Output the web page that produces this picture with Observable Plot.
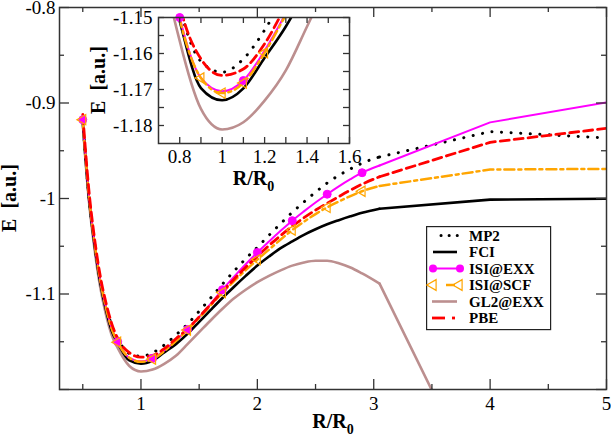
<!DOCTYPE html>
<html><head><meta charset="utf-8">
<script src="https://cdn.jsdelivr.net/npm/d3@7"></script>
<script src="https://cdn.jsdelivr.net/npm/@observablehq/plot@0.6"></script>
<style>
html,body{margin:0;padding:0;background:#fff;}
#wrap{position:relative;width:611px;height:440px;overflow:hidden;font-family:"Liberation Serif","Times New Roman",serif;}
#wrap > svg{position:absolute;overflow:visible;}
#wrap svg, #wrap svg text{font-family:"Liberation Serif","Times New Roman",serif !important;}
#wrap svg.mainplot{background:white !important;}
#wrap svg.insetplot{background:transparent !important;}
</style></head><body><div id="wrap"></div>
<script>
// ---- data (R/R0, energies in a.u.) ----
const R       = [0.5, 0.55, 0.6, 0.65, 0.7, 0.75, 0.8, 0.9, 1.0, 1.1, 1.2, 1.3, 1.4, 1.5, 1.6, 1.7, 1.8, 1.9, 2.0, 2.1, 2.2, 2.3, 2.4, 2.5, 2.6, 2.7, 2.8, 2.9, 3.05, 4, 5];
const MP2     = [-0.9185, -0.994, -1.0455, -1.085, -1.1125, -1.1335, -1.1470, -1.1622, -1.1652, -1.1615, -1.1535, -1.1430, -1.1315, -1.1180, -1.1040, -1.0897, -1.0760, -1.0630, -1.0510, -1.0385, -1.0263, -1.0145, -1.0037, -0.9934, -0.9838, -0.9758, -0.9690, -0.9630, -0.9565, -0.9300, -0.9366];
const FCI     = [-0.920, -0.996, -1.048, -1.088, -1.117, -1.139, -1.151, -1.1696, -1.1730, -1.1697, -1.1612, -1.1525, -1.1418, -1.1292, -1.1166, -1.1042, -1.0924, -1.0810, -1.0702, -1.0608, -1.0520, -1.0448, -1.0380, -1.0322, -1.0270, -1.0227, -1.0187, -1.0150, -1.0108, -1.0012, -1.0002];
const ISI_EXX = [-0.9175, -0.993, -1.0455, -1.0855, -1.1145, -1.1365, -1.1500, -1.1668, -1.1705, -1.1675, -1.1592, -1.1488, -1.1372, -1.1240, -1.1100, -1.0955, -1.0818, -1.0688, -1.0565, -1.0450, -1.0338, -1.0232, -1.0135, -1.0042, -0.9955, -0.9873, -0.9798, -0.9730, -0.9655, -0.9203, -0.8995];
const ISI_SCF = [-0.9175, -0.993, -1.0455, -1.0855, -1.1145, -1.1368, -1.1505, -1.1668, -1.1710, -1.1682, -1.1598, -1.1492, -1.1378, -1.1250, -1.1118, -1.0985, -1.0865, -1.0750, -1.0640, -1.0535, -1.0430, -1.0330, -1.0243, -1.0163, -1.0092, -1.0032, -0.9975, -0.9924, -0.9868, -0.9697, -0.9690];
const GL2_EXX = [-0.922, -0.999, -1.052, -1.093, -1.122, -1.1435, -1.1565, -1.1754, -1.1811, -1.1791, -1.1731, -1.1647, -1.1525, -1.1400, -1.1275, -1.1155, -1.1045, -1.0955, -1.0876, -1.0810, -1.0752, -1.0703, -1.0670, -1.0652, -1.0652, -1.0678, -1.0722, -1.0785, -1.0891, -1.325, -1.56];
const PBE     = [-0.912, -0.988, -1.041, -1.081, -1.1095, -1.1315, -1.1465, -1.1615, -1.1661, -1.1643, -1.1573, -1.1468, -1.1365, -1.1240, -1.1108, -1.0975, -1.0845, -1.0720, -1.0605, -1.0492, -1.0388, -1.0290, -1.0202, -1.0122, -1.0050, -0.9980, -0.9912, -0.9850, -0.9772, -0.9412, -0.9265];
const seriesNames = ["MP2", "FCI", "ISI@EXX", "ISI@SCF", "GL2@EXX", "PBE"];
// symbol positions
const mainMarkR     = [0.5, 0.8, 1.1, 1.4, 1.7, 2.0, 2.3, 2.6, 2.9];
const insetExxMarkR = [0.8, 1.1];
const insetScfMarkR = [0.9, 1.0, 1.1, 1.2];
// ticks
const mainXMajor = [1, 2, 3, 4, 5], mainXMinor = [0.5, 1.5, 2.5, 3.5, 4.5];
const mainYMajor = [-1.2, -1.1, -1, -0.9, -0.8], mainYMinor = [-1.15, -1.05, -0.95, -0.85];
const mainXLabels = [1, 2, 3, 4, 5], mainYLabels = [-1.1, -1, -0.9, -0.8];
const inXMajor = [0.8, 1, 1.2, 1.4, 1.6], inXMinor = [0.9, 1.1, 1.3, 1.5];
const inYMajor = [-1.18, -1.17, -1.16, -1.15], inYMinor = [-1.175, -1.165, -1.155];

// ---- build ----
const seriesValues = [MP2, FCI, ISI_EXX, ISI_SCF, GL2_EXX, PBE];
const rows = seriesNames.flatMap((s, i) => R.map((r, j) => ({s, r, e: seriesValues[i][j]})));
const styles = {
  "MP2":     {stroke: "#000000", strokeWidth: 3, strokeDasharray: "0.1,9.5", strokeLinecap: "round"},
  "FCI":     {stroke: "#000000", strokeWidth: 2.6},
  "ISI@EXX": {stroke: "#ff00ff", strokeWidth: 2},
  "ISI@SCF": {stroke: "#ffa500", strokeWidth: 2.5, strokeDasharray: "10,4,3,4"},
  "GL2@EXX": {stroke: "#bc8f8f", strokeWidth: 2.6},
  "PBE":     {stroke: "#ff0000", strokeWidth: 2.8, strokeDasharray: "9,5"}
};
const drawOrder = ["GL2@EXX", "FCI", "MP2", "ISI@EXX", "ISI@SCF", "PBE"];
const smoothEnd = 3.05; // smooth part of the grid; sparse tail drawn with straight segments
const frameColor = "#333";
const fontFam = "'Liberation Serif','Times New Roman',serif";

function curveMarks() {
  return drawOrder.flatMap(s => [
    Plot.line(rows.filter(d => d.s === s && d.r <= smoothEnd), {x: "r", y: "e", ...styles[s], curve: "monotone-x", strokeLinejoin: "round", clip: true}),
    Plot.line(rows.filter(d => d.s === s && d.r >= smoothEnd), {x: "r", y: "e", ...styles[s], strokeLinejoin: "round", clip: true})
  ]);
}
function markerMarks(exxR, scfR) {
  return [
    Plot.dot(rows.filter(d => d.s === "ISI@EXX" && exxR.includes(d.r)), {x: "r", y: "e", r: 4, fill: "#ff00ff", stroke: "#ff00ff", strokeWidth: 1}),
    Plot.dot(rows.filter(d => d.s === "ISI@SCF" && scfR.includes(d.r)), {x: "r", y: "e", symbol: "triangle", rotate: -90, r: 3.8, fill: "none", stroke: "#ffa500", strokeWidth: 1.2})
  ];
}
function tickMarks(xMaj, xMin, yMaj, yMin, iw, ih, lMaj, lMin) {
  const o = {stroke: frameColor, strokeWidth: 1.3};
  const m = [];
  for (const [a, l] of [[xMaj, lMaj], [xMin, lMin]]) {
    m.push(Plot.ruleX(a, {x: d => d, insetTop: ih - l, ...o}));
    m.push(Plot.ruleX(a, {x: d => d, insetBottom: ih - l, ...o}));
  }
  for (const [a, l] of [[yMaj, lMaj], [yMin, lMin]]) {
    m.push(Plot.ruleY(a, {y: d => d, insetRight: iw - l, ...o}));
    m.push(Plot.ruleY(a, {y: d => d, insetLeft: iw - l, ...o}));
  }
  return m;
}
const fmt = d => String(d);

// main plot
const W = 611, H = 440, mL = 59, mR = 5, mT = 7, mB = 51;
const main = Plot.plot({
  width: W, height: H, marginLeft: mL, marginRight: mR, marginTop: mT, marginBottom: mB,
  className: "mainplot",
  style: {fontSize: "19px", color: "black"},
  x: {domain: [0.3, 5]},
  y: {domain: [-1.2, -0.8]},
  marks: [
    ...curveMarks(),
    ...markerMarks(mainMarkR, mainMarkR),
    ...tickMarks(mainXMajor, mainXMinor, mainYMajor, mainYMinor, W - mL - mR, H - mT - mB, 10, 5),
    Plot.frame({stroke: frameColor, strokeWidth: 1.5}),
    Plot.axisX({ticks: mainXLabels, tickSize: 0, tickPadding: 7, tickFormat: fmt, label: null, fontSize: 19}),
    Plot.axisY({ticks: mainYLabels, tickSize: 0, tickPadding: 4, tickFormat: fmt, label: null, fontSize: 19})
  ]
});
main.classList.add("mainplot");
const wrap = document.getElementById("wrap");
main.style.left = "0px"; main.style.top = "0px";
wrap.appendChild(main);
const ms = d3.select(main);
const xl = ms.append("text").attr("x", 333).attr("y", 428).attr("text-anchor", "middle")
  .attr("font-weight", "bold").attr("font-size", 20).attr("fill", "black");
xl.append("tspan").text("R/R");
xl.append("tspan").attr("dy", 6).attr("font-size", 14).text("0");
ms.append("text").attr("transform", "translate(16,198) rotate(-90)").attr("text-anchor", "middle")
  .attr("font-weight", "bold").attr("font-size", 20).attr("fill", "black")
  .text("E\u00a0\u00a0[a.u.]");

// inset
const IW = 265, IH = 190, iL = 68, iR = 6, iT = 17, iB = 47;
const inset = Plot.plot({
  width: IW, height: IH, marginLeft: iL, marginRight: iR, marginTop: iT, marginBottom: iB,
  className: "insetplot",
  style: {fontSize: "19px", color: "black"},
  x: {domain: [0.7, 1.6]},
  y: {domain: [-1.185, -1.15]},
  marks: [
    Plot.frame({fill: "white"}),
    ...curveMarks(),
    ...markerMarks(insetExxMarkR, insetScfMarkR),
    ...tickMarks(inXMajor, inXMinor, inYMajor, inYMinor, IW - iL - iR, IH - iT - iB, 6, 6),
    Plot.frame({stroke: frameColor, strokeWidth: 1.5}),
    Plot.axisX({ticks: inXMajor, tickSize: 0, tickPadding: 6, tickFormat: fmt, label: null, fontSize: 19}),
    Plot.axisY({ticks: inYMajor, tickSize: 0, tickPadding: 6, tickFormat: fmt, label: null, fontSize: 19})
  ]
});
inset.classList.add("insetplot");
inset.style.left = "90px"; inset.style.top = "0px";
wrap.appendChild(inset);
const is = d3.select(inset);
const ixl = is.append("text").attr("x", 163.5).attr("y", 185).attr("text-anchor", "middle")
  .attr("font-weight", "bold").attr("font-size", 20).attr("fill", "black");
ixl.append("tspan").text("R/R");
ixl.append("tspan").attr("dy", 6).attr("font-size", 14).text("0");
is.append("text").attr("transform", "translate(14.5,80) rotate(-90)").attr("text-anchor", "middle")
  .attr("font-weight", "bold").attr("font-size", 20).attr("fill", "black")
  .text("E\u00a0\u00a0[a.u.]");

// legend
const leg = d3.create("svg").attr("width", 126).attr("height", 105)
  .style("left", "426px").style("top", "226px");
leg.append("rect").attr("x", 0.6).attr("y", 0.6).attr("width", 124).attr("height", 103)
  .attr("fill", "white").attr("stroke", "#222").attr("stroke-width", 1.2);
const rowY = i => 9.5 + i * 16.5;
seriesNames.forEach((s, i) => {
  const y = rowY(i), st = styles[s];
  const g = leg.append("g");
  const ln = (x1, x2, dash, cap) => g.append("line").attr("x1", x1).attr("x2", x2).attr("y1", y).attr("y2", y)
      .attr("stroke", st.stroke).attr("stroke-width", st.strokeWidth).attr("stroke-dasharray", dash || null)
      .attr("stroke-linecap", cap || null);
  if (s === "MP2") ln(15, 32, "0.1,8", "round");
  else if (s === "FCI") ln(7, 31);
  else if (s === "ISI@EXX") {
    ln(7, 34);
    [7, 34].forEach(cx => g.append("circle").attr("cx", cx).attr("cy", y).attr("r", 4).attr("fill", st.stroke));
  } else if (s === "ISI@SCF") {
    ln(20, 29);
    [7, 33].forEach(cx => g.append("path").attr("d", d3.symbol(d3.symbolTriangle, 50)())
      .attr("transform", `translate(${cx},${y}) rotate(-90)`).attr("fill", "none").attr("stroke", st.stroke).attr("stroke-width", 1.2));
  } else if (s === "GL2@EXX") ln(6, 31);
  else if (s === "PBE") { ln(6, 19); ln(26, 29); }
  g.append("text").attr("x", 43).attr("y", y + 5).attr("font-weight", "bold")
    .attr("font-size", 15).attr("fill", "black").text(s);
});
wrap.appendChild(leg.node());

// force serif font inline on every text
d3.select(wrap).selectAll("text").style("font-family", "'Liberation Serif','Times New Roman',serif");
</script>
</body></html>
